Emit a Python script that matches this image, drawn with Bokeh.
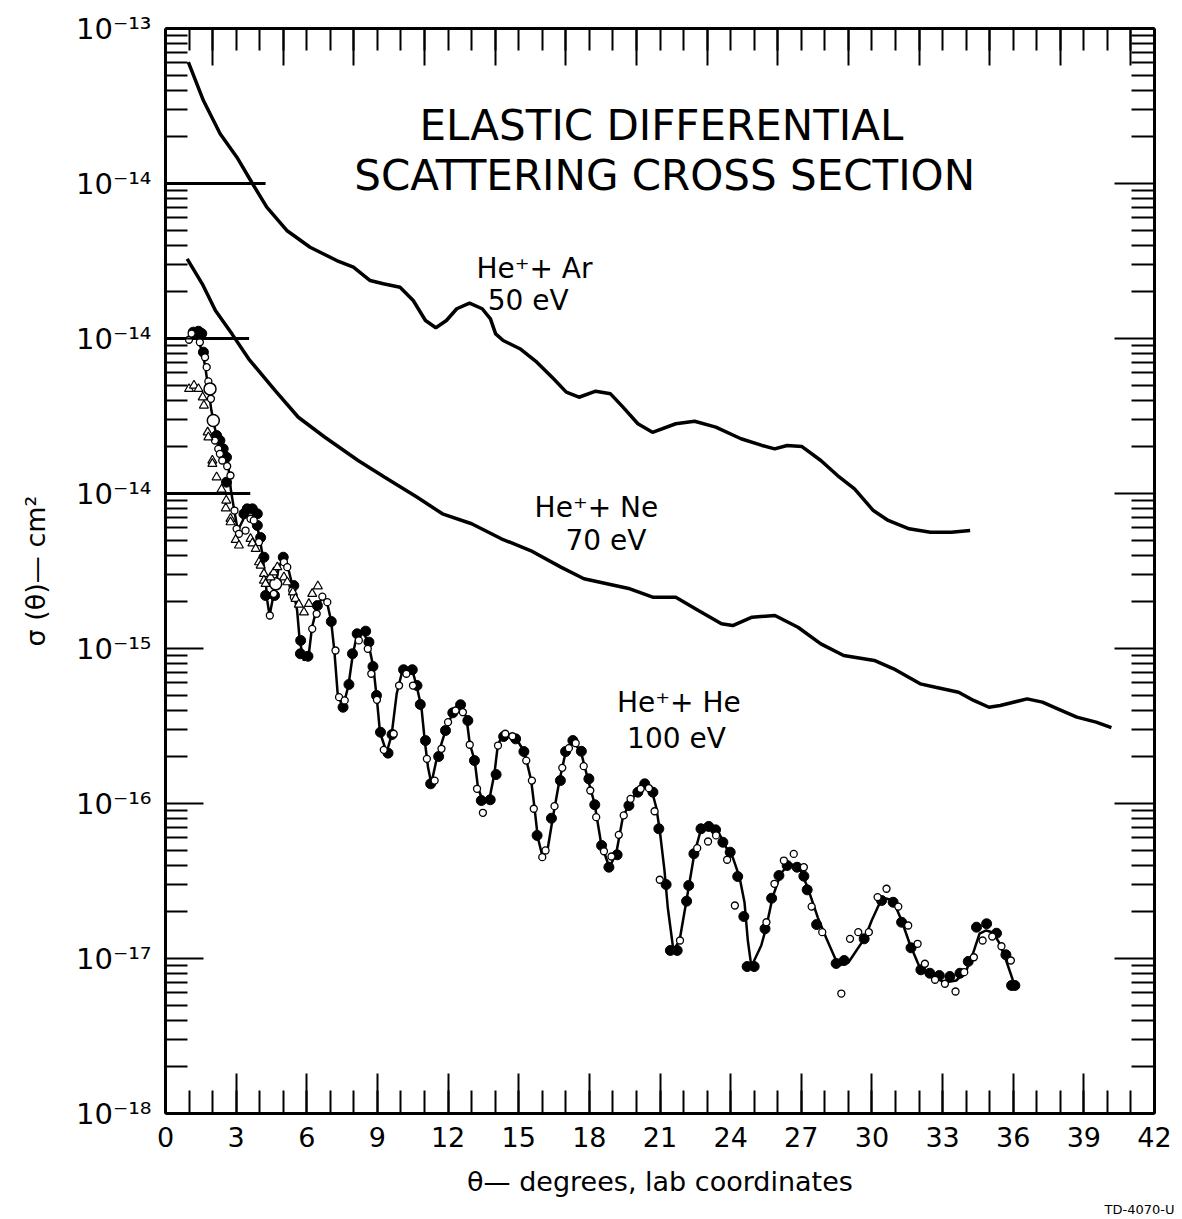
import numpy as np
from bokeh.plotting import figure
from bokeh.models import (LinearAxis, LogAxis, FixedTicker, Range1d, Label, Title,
                          CustomJSTickFormatter)
from bokeh.embed import file_html
from bokeh.resources import INLINE

FONT = "DejaVu Sans"

# ---------------- data (theta in degrees, log10 of sigma in cm^2) ----------------
# He+ + Ar, 50 eV  (true values; plotted shifted up x100 on the staggered scale)
ar_deg = [0.97, 1.61, 2.32, 3.03, 3.66, 4.30, 5.15, 6.14, 7.27, 7.98, 8.69, 9.25, 9.96,
          10.52, 11.04, 11.48, 11.93, 12.37, 12.91, 13.45, 13.80, 14.02, 14.34, 15.05,
          15.77, 16.48, 17.02, 17.56, 18.27, 18.90, 19.43, 20.06, 20.68, 21.67, 22.47,
          23.37, 24.44, 25.33, 25.87, 26.40, 27.03, 27.83, 28.54, 29.26, 30.06, 30.69,
          31.58, 32.48, 33.37, 34.17]
ar_log10 = [-13.217, -13.465, -13.679, -13.830, -13.992, -14.153, -14.303, -14.411,
            -14.497, -14.540, -14.626, -14.647, -14.669, -14.755, -14.884, -14.931,
            -14.884, -14.808, -14.772, -14.808, -14.873, -14.970, -15.013, -15.066,
            -15.153, -15.260, -15.346, -15.379, -15.340, -15.357, -15.443, -15.550,
            -15.605, -15.550, -15.534, -15.572, -15.647, -15.690, -15.712, -15.690,
            -15.697, -15.787, -15.884, -15.970, -16.110, -16.174, -16.228, -16.250,
            -16.250, -16.239]

# He+ + Ne, 70 eV  (true values; plotted shifted up x10)
ne_deg = [0.92, 1.56, 2.12, 2.82, 3.53, 4.65, 5.64, 6.77, 8.18, 9.31, 10.69, 11.76, 13.00,
          14.26, 15.50, 16.79, 17.77, 19.72, 20.69, 21.67, 22.63, 23.61, 24.09, 24.91,
          25.88, 26.86, 27.83, 28.80, 30.10, 30.92, 32.05, 32.70, 33.68, 34.32, 34.97,
          35.45, 36.59, 37.24, 37.89, 38.70, 39.52, 40.17]
ne_log10 = [-13.486, -13.647, -13.819, -13.970, -14.131, -14.335, -14.508, -14.637,
            -14.787, -14.895, -15.024, -15.131, -15.195, -15.292, -15.368, -15.475,
            -15.550, -15.615, -15.669, -15.669, -15.755, -15.841, -15.852, -15.798,
            -15.787, -15.863, -15.970, -16.045, -16.077, -16.131, -16.228, -16.250,
            -16.282, -16.335, -16.379, -16.368, -16.325, -16.346, -16.389, -16.443,
            -16.475, -16.511]

# He+ + He, 100 eV : smooth curve
he_line_deg = [1.03, 1.24, 1.54, 1.68, 1.82, 1.95, 2.16, 2.45, 2.63, 2.70, 2.78, 2.92, 3.07,
               3.28, 3.48, 3.75, 3.96, 4.11, 4.25, 4.32, 4.42, 4.60, 4.81, 5.00, 5.16, 5.37,
               5.59, 5.70, 5.87, 6.08, 6.22, 6.43, 6.64, 6.86, 7.03, 7.17, 7.31, 7.53, 7.77,
               7.96, 8.13, 8.41, 8.62, 8.83, 8.97, 9.11, 9.39, 9.60, 9.82, 10.03, 10.31,
               10.52, 10.66, 10.87, 11.01, 11.15, 11.29, 11.50, 11.72, 11.93, 12.21, 12.49,
               12.78, 12.92, 13.13, 13.27, 13.51, 13.76, 13.97, 14.11, 14.30, 14.61, 14.90,
               15.25, 15.53, 15.67, 15.81, 16.02, 16.24, 16.45, 16.73, 16.99, 17.30, 17.65,
               17.93, 18.22, 18.50, 18.85, 19.14, 19.42, 19.70, 20.06, 20.34, 20.63, 20.84,
               20.98, 21.19, 21.33, 21.57, 21.83, 22.11, 22.46, 22.75, 23.10, 23.45, 23.81,
               24.09, 24.38, 24.59, 24.73, 24.88, 25.30, 25.50, 25.78, 26.13, 26.49, 26.92,
               27.27, 27.70, 28.05, 28.57, 29.00, 29.71, 29.99, 30.34, 30.60, 30.90, 31.26,
               31.60, 32.03, 32.52, 33.09, 33.58, 34.01, 34.29, 34.57, 34.85, 35.14, 35.42,
               35.70, 36.06]
he_line_log10 = [-12.968, -12.948, -13.077, -13.174, -13.323, -13.465, -13.626, -13.710,
                 -13.768, -13.871, -13.981, -14.110, -14.239, -14.174, -14.097, -14.129,
                 -14.258, -14.387, -14.561, -14.690, -14.787, -14.645, -14.477, -14.413,
                 -14.452, -14.581, -14.755, -14.948, -15.077, -15.045, -14.865, -14.735,
                 -14.677, -14.703, -14.819, -15.013, -15.290, -15.381, -15.239, -15.032,
                 -14.916, -14.897, -14.968, -15.123, -15.316, -15.542, -15.671, -15.561,
                 -15.290, -15.161, -15.135, -15.161, -15.239, -15.381, -15.594, -15.768,
                 -15.871, -15.723, -15.613, -15.510, -15.413, -15.368, -15.445, -15.613,
                 -15.723, -15.897, -16.000, -15.968, -15.806, -15.626, -15.561, -15.555,
                 -15.581, -15.671, -15.852, -16.026, -16.219, -16.348, -16.284, -16.090,
                 -15.852, -15.671, -15.594, -15.671, -15.839, -16.000, -16.258, -16.413,
                 -16.323, -16.090, -16.000, -15.916, -15.871, -15.903, -16.026, -16.161,
                 -16.432, -16.671, -16.948, -16.884, -16.639, -16.323, -16.161, -16.155,
                 -16.174, -16.284, -16.348, -16.477, -16.639, -16.884, -17.052, -16.916,
                 -16.806, -16.606, -16.452, -16.387, -16.413, -16.542, -16.735, -16.865,
                 -17.045, -17.026, -16.865, -16.755, -16.639, -16.613, -16.626, -16.755,
                 -16.903, -17.058, -17.110, -17.155, -17.142, -17.077, -16.968, -16.839,
                 -16.819, -16.832, -16.903, -17.013, -17.174]

# He+ + He : filled circles
he_fill_deg = [1.18, 1.40, 1.54, 1.61, 2.17, 2.31, 2.45, 2.59, 2.59, 3.33, 3.47, 3.69, 3.90,
               3.90, 4.04, 4.18, 4.25, 4.63, 5.00, 5.45, 5.74, 5.73, 6.05, 6.45, 7.04, 7.54,
               7.79, 7.94, 8.14, 8.50, 8.64, 8.81, 8.96, 9.13, 9.45, 9.62, 10.11, 10.48,
               10.68, 10.82, 11.04, 11.26, 11.60, 11.89, 12.20, 12.53, 12.84, 13.12, 13.41,
               13.79, 14.04, 14.36, 14.87, 15.22, 15.78, 16.39, 16.77, 16.99, 17.30, 17.66,
               17.98, 18.23, 18.52, 18.83, 19.18, 19.68, 20.06, 20.35, 20.70, 20.95, 21.26,
               21.44, 21.73, 22.13, 22.22, 22.44, 22.74, 23.07, 23.36, 23.67, 23.98, 24.30,
               24.56, 24.70, 25.00, 25.46, 25.74, 26.05, 26.40, 26.82, 27.11, 27.25, 27.65,
               28.48, 28.82, 29.67, 30.41, 30.90, 31.26, 31.66, 32.08, 32.46, 32.86, 33.31,
               33.74, 34.09, 34.44, 34.87, 35.29, 35.69, 35.93, 36.07]
he_fill_log10 = [-12.959, -12.953, -12.968, -13.088, -13.626, -13.658, -13.712, -13.766,
                 -13.927, -14.131, -14.099, -14.099, -14.131, -14.206, -14.284, -14.411,
                 -14.658, -14.658, -14.411, -14.594, -14.948, -15.034, -15.050, -14.723,
                 -14.826, -15.379, -15.232, -15.034, -14.905, -14.888, -14.959, -15.116,
                 -15.303, -15.540, -15.675, -15.555, -15.137, -15.137, -15.239, -15.361,
                 -15.594, -15.873, -15.697, -15.529, -15.415, -15.363, -15.465, -15.723,
                 -15.981, -15.976, -15.813, -15.568, -15.583, -15.665, -16.206, -16.095,
                 -15.852, -15.665, -15.594, -15.663, -15.841, -16.008, -16.271, -16.411,
                 -16.331, -16.013, -15.927, -15.873, -15.927, -16.163, -16.523, -16.948,
                 -16.948, -16.630, -16.529, -16.324, -16.163, -16.148, -16.170, -16.250,
                 -16.314, -16.471, -16.729, -17.052, -17.052, -16.808, -16.611, -16.465,
                 -16.400, -16.411, -16.469, -16.557, -16.781, -17.032, -17.013, -16.873,
                 -16.626, -16.637, -16.766, -16.931, -17.073, -17.095, -17.110, -17.116,
                 -17.095, -17.019, -16.798, -16.776, -16.837, -16.976, -17.174, -17.174]

# He+ + He : open circles
he_open_deg = [1.00, 1.11, 1.46, 1.68, 1.75, 1.82, 1.93, 2.10, 2.24, 2.31, 2.41, 2.62, 2.76,
               2.93, 3.02, 3.12, 3.40, 3.61, 3.75, 3.97, 4.43, 4.60, 5.03, 5.17, 5.38, 5.45,
               6.23, 6.42, 6.66, 6.87, 7.22, 7.37, 7.61, 8.21, 8.59, 8.74, 8.98, 9.27, 9.69,
               9.92, 10.23, 10.51, 11.10, 11.43, 11.72, 12.00, 12.32, 12.63, 12.92, 13.23,
               13.48, 14.12, 14.43, 14.73, 15.32, 15.56, 15.64, 16.00, 16.14, 16.52, 16.85,
               17.13, 17.42, 17.76, 18.04, 18.29, 18.62, 18.94, 19.25, 19.46, 19.75, 20.18,
               20.53, 20.77, 20.99, 21.85, 22.58, 23.04, 23.38, 23.85, 24.18, 25.52, 25.86,
               26.26, 26.68, 27.11, 27.44, 27.89, 28.70, 29.07, 29.42, 29.87, 30.24, 30.62,
               31.12, 31.54, 31.94, 32.25, 32.68, 33.10, 33.55, 33.92, 34.33, 34.70, 35.11,
               35.50, 35.90]
he_open_log10 = [-13.008, -12.968, -13.024, -13.121, -13.185, -13.277, -13.389, -13.658,
                 -13.712, -13.744, -13.787, -13.824, -13.884, -14.110, -14.228, -14.260,
                 -14.239, -14.163, -14.174, -14.314, -14.787, -14.647, -14.443, -14.475,
                 -14.626, -14.669, -14.873, -14.776, -14.665, -14.701, -15.013, -15.314,
                 -15.335, -14.948, -15.002, -15.163, -15.331, -15.654, -15.550, -15.239,
                 -15.163, -15.239, -15.712, -15.852, -15.647, -15.475, -15.400, -15.411,
                 -15.621, -15.905, -16.060, -15.626, -15.550, -15.566, -15.723, -15.852,
                 -16.034, -16.346, -16.303, -16.017, -15.770, -15.643, -15.611, -15.759,
                 -15.916, -16.088, -16.308, -16.342, -16.202, -16.077, -15.970, -15.905,
                 -15.901, -16.050, -16.492, -16.884, -16.288, -16.245, -16.206, -16.363,
                 -16.658, -16.766, -16.518, -16.368, -16.325, -16.411, -16.665, -16.830,
                 -17.226, -16.873, -16.830, -16.830, -16.604, -16.550, -16.665, -16.787,
                 -16.905, -17.034, -17.137, -17.163, -17.213, -17.088, -16.992, -16.884,
                 -16.858, -16.921, -17.013]

# He+ + He : larger open circles
he_open_big_deg = [1.89, 2.03, 4.68]
he_open_big_log10 = [-13.325, -13.529, -14.583]

# He+ + He : open triangles (second data set)
he_tri_deg = [1.00, 1.21, 1.40, 1.58, 1.63, 1.79, 1.82, 1.99, 1.99, 2.17, 2.38, 2.58, 2.56,
              2.76, 2.76, 2.98, 3.12, 3.61, 3.69, 3.83, 3.97, 4.04, 4.18, 4.18, 4.25, 4.46,
              4.60, 4.75, 5.03, 5.17, 5.41, 5.52, 5.66, 5.88, 6.09, 6.23, 6.47]
he_tri_log10 = [-13.325, -13.303, -13.325, -13.379, -13.432, -13.605, -13.637, -13.787,
                -13.808, -13.895, -13.974, -14.045, -14.095, -14.163, -14.185, -14.299,
                -14.335, -14.292, -14.321, -14.357, -14.443, -14.465, -14.518, -14.561,
                -14.583, -14.540, -14.508, -14.475, -14.540, -14.572, -14.637, -14.679,
                -14.716, -14.766, -14.712, -14.647, -14.598]

# staggered scale: Ar x100, Ne x10, He x1 ; their 10^-14 reference marks
ar_scale, ne_scale = 100.0, 10.0
ref_levels = [1e-14 * ar_scale, 1e-14 * ne_scale, 1e-14]
ref_end_deg = [4.25, 3.55, 3.6]

y_exponents = [-18, -17, -16, -15, -14, -13, -12, -11]
y_tick_labels = ["10⁻¹⁸", "10⁻¹⁷", "10⁻¹⁶", "10⁻¹⁵", "10⁻¹⁴", "10⁻¹⁴", "10⁻¹⁴", "10⁻¹³"]
x_major = list(range(0, 43, 3))

# ---------------- figure ----------------
p = figure(frame_width=989, frame_height=1085,
           x_range=Range1d(0, 42), y_range=Range1d(1e-18, 1e-11),
           y_axis_type="log", output_backend="svg", toolbar_location=None,
           min_border_left=165, min_border_right=26, min_border_top=28,
           min_border_bottom=100)
p.outline_line_color = None
p.xgrid.visible = False
p.ygrid.visible = False
p.background_fill_color = "white"
p.border_fill_color = "white"

y_major = [10.0 ** e for e in y_exponents]
y_minor = [m * 10.0 ** e for e in y_exponents[:-1] for m in range(2, 10)]
x_minor = list(range(0, 43))


def style_axis(ax, major_in, minor_in):
    ax.axis_line_width = 3
    ax.axis_line_color = "black"
    ax.major_tick_line_width = 2
    ax.minor_tick_line_width = 2
    ax.major_tick_line_color = "black"
    ax.minor_tick_line_color = "black"
    ax.major_tick_in = major_in
    ax.major_tick_out = 0
    ax.minor_tick_in = minor_in
    ax.minor_tick_out = 0
    ax.major_label_text_font = FONT
    ax.major_label_text_color = "black"
    ax.axis_label_text_font = FONT
    ax.axis_label_text_font_style = "normal"
    ax.axis_label_text_color = "black"


# bottom axis
xa = p.xaxis[0]
xa.ticker = FixedTicker(ticks=x_major, minor_ticks=x_minor)
style_axis(xa, 40, 23)
xa.major_label_text_font_size = "27px"
xa.major_label_standoff = 13
xa.axis_label = "θ— degrees, lab coordinates"
xa.axis_label_text_font_size = "27px"
xa.axis_label_standoff = 16

# left axis
ya = p.yaxis[0]
ya.ticker = FixedTicker(ticks=y_major, minor_ticks=y_minor)
style_axis(ya, 38, 22)
ya.major_label_overrides = {v: t for v, t in zip(y_major, y_tick_labels)}
ya.major_label_text_font_size = "29px"
ya.major_label_standoff = 14
ya.axis_label = "σ (θ)— cm²"
ya.axis_label_text_font_size = "27px"
ya.axis_label_standoff = 22

blank = CustomJSTickFormatter(code="return ''")

# top axis (ticks only)
top = LinearAxis(ticker=FixedTicker(ticks=list(range(2, 43, 3)), minor_ticks=x_minor),
                 formatter=blank)
style_axis(top, 37, 22)
top.major_label_text_font_size = "1px"
top.major_label_standoff = 0
p.add_layout(top, "above")

# right axis (ticks only)
right = LogAxis(ticker=FixedTicker(ticks=y_major, minor_ticks=y_minor), formatter=blank)
style_axis(right, 40, 23)
right.major_label_text_font_size = "1px"
right.major_label_standoff = 0
p.add_layout(right, "right")

# drawing number, bottom right
p.add_layout(Title(text="TD-4070-U", align="right", text_font=FONT,
                   text_font_size="13px", text_font_style="normal",
                   text_color="black", standoff=0, offset=-20), "below")

# 10^-14 reference marks of the three staggered scales
p.segment(x0=[0, 0, 0], y0=ref_levels, x1=ref_end_deg, y1=ref_levels,
          line_color="black", line_width=3)

# curves
ar_y = np.power(10.0, np.array(ar_log10)) * ar_scale
ne_y = np.power(10.0, np.array(ne_log10)) * ne_scale
p.line(ar_deg, ar_y, line_color="black", line_width=3.5)
p.line(ne_deg, ne_y, line_color="black", line_width=3.5)
p.line(he_line_deg, np.power(10.0, np.array(he_line_log10)), line_color="black",
       line_width=2.5)

# He data points
p.scatter(he_fill_deg, np.power(10.0, np.array(he_fill_log10)), marker="circle",
          size=10, fill_color="black", line_color="black", line_width=1)
p.scatter(he_open_deg, np.power(10.0, np.array(he_open_log10)), marker="circle",
          size=7, fill_color="white", line_color="black", line_width=1.3)
p.scatter(he_open_big_deg, np.power(10.0, np.array(he_open_big_log10)), marker="circle",
          size=12, fill_color="white", line_color="black", line_width=1.5)
p.scatter(he_tri_deg, np.power(10.0, np.array(he_tri_log10)), marker="triangle",
          size=9, fill_color="white", line_color="black", line_width=1.2)

# texts
def add_label(x, logy, text, size):
    p.add_layout(Label(x=x, y=10.0 ** logy, text=text, text_align="center",
                       text_baseline="middle", text_font=FONT, text_font_size=size,
                       text_color="black"))


add_label(21.06, -11.626, "ELASTIC DIFFERENTIAL", "42px")
add_label(21.2, -11.948, "SCATTERING CROSS SECTION", "42px")
add_label(15.67, -12.548, "He⁺+ Ar", "28px")
add_label(15.4, -12.755, "50 eV", "28px")
add_label(18.3, -14.09, "He⁺+ Ne", "28px")
add_label(18.7, -14.303, "70 eV", "28px")
add_label(21.8, -15.348, "He⁺+ He", "28px")
add_label(21.7, -15.58, "100 eV", "28px")

open("out.html", "w").write(file_html(p, INLINE))
